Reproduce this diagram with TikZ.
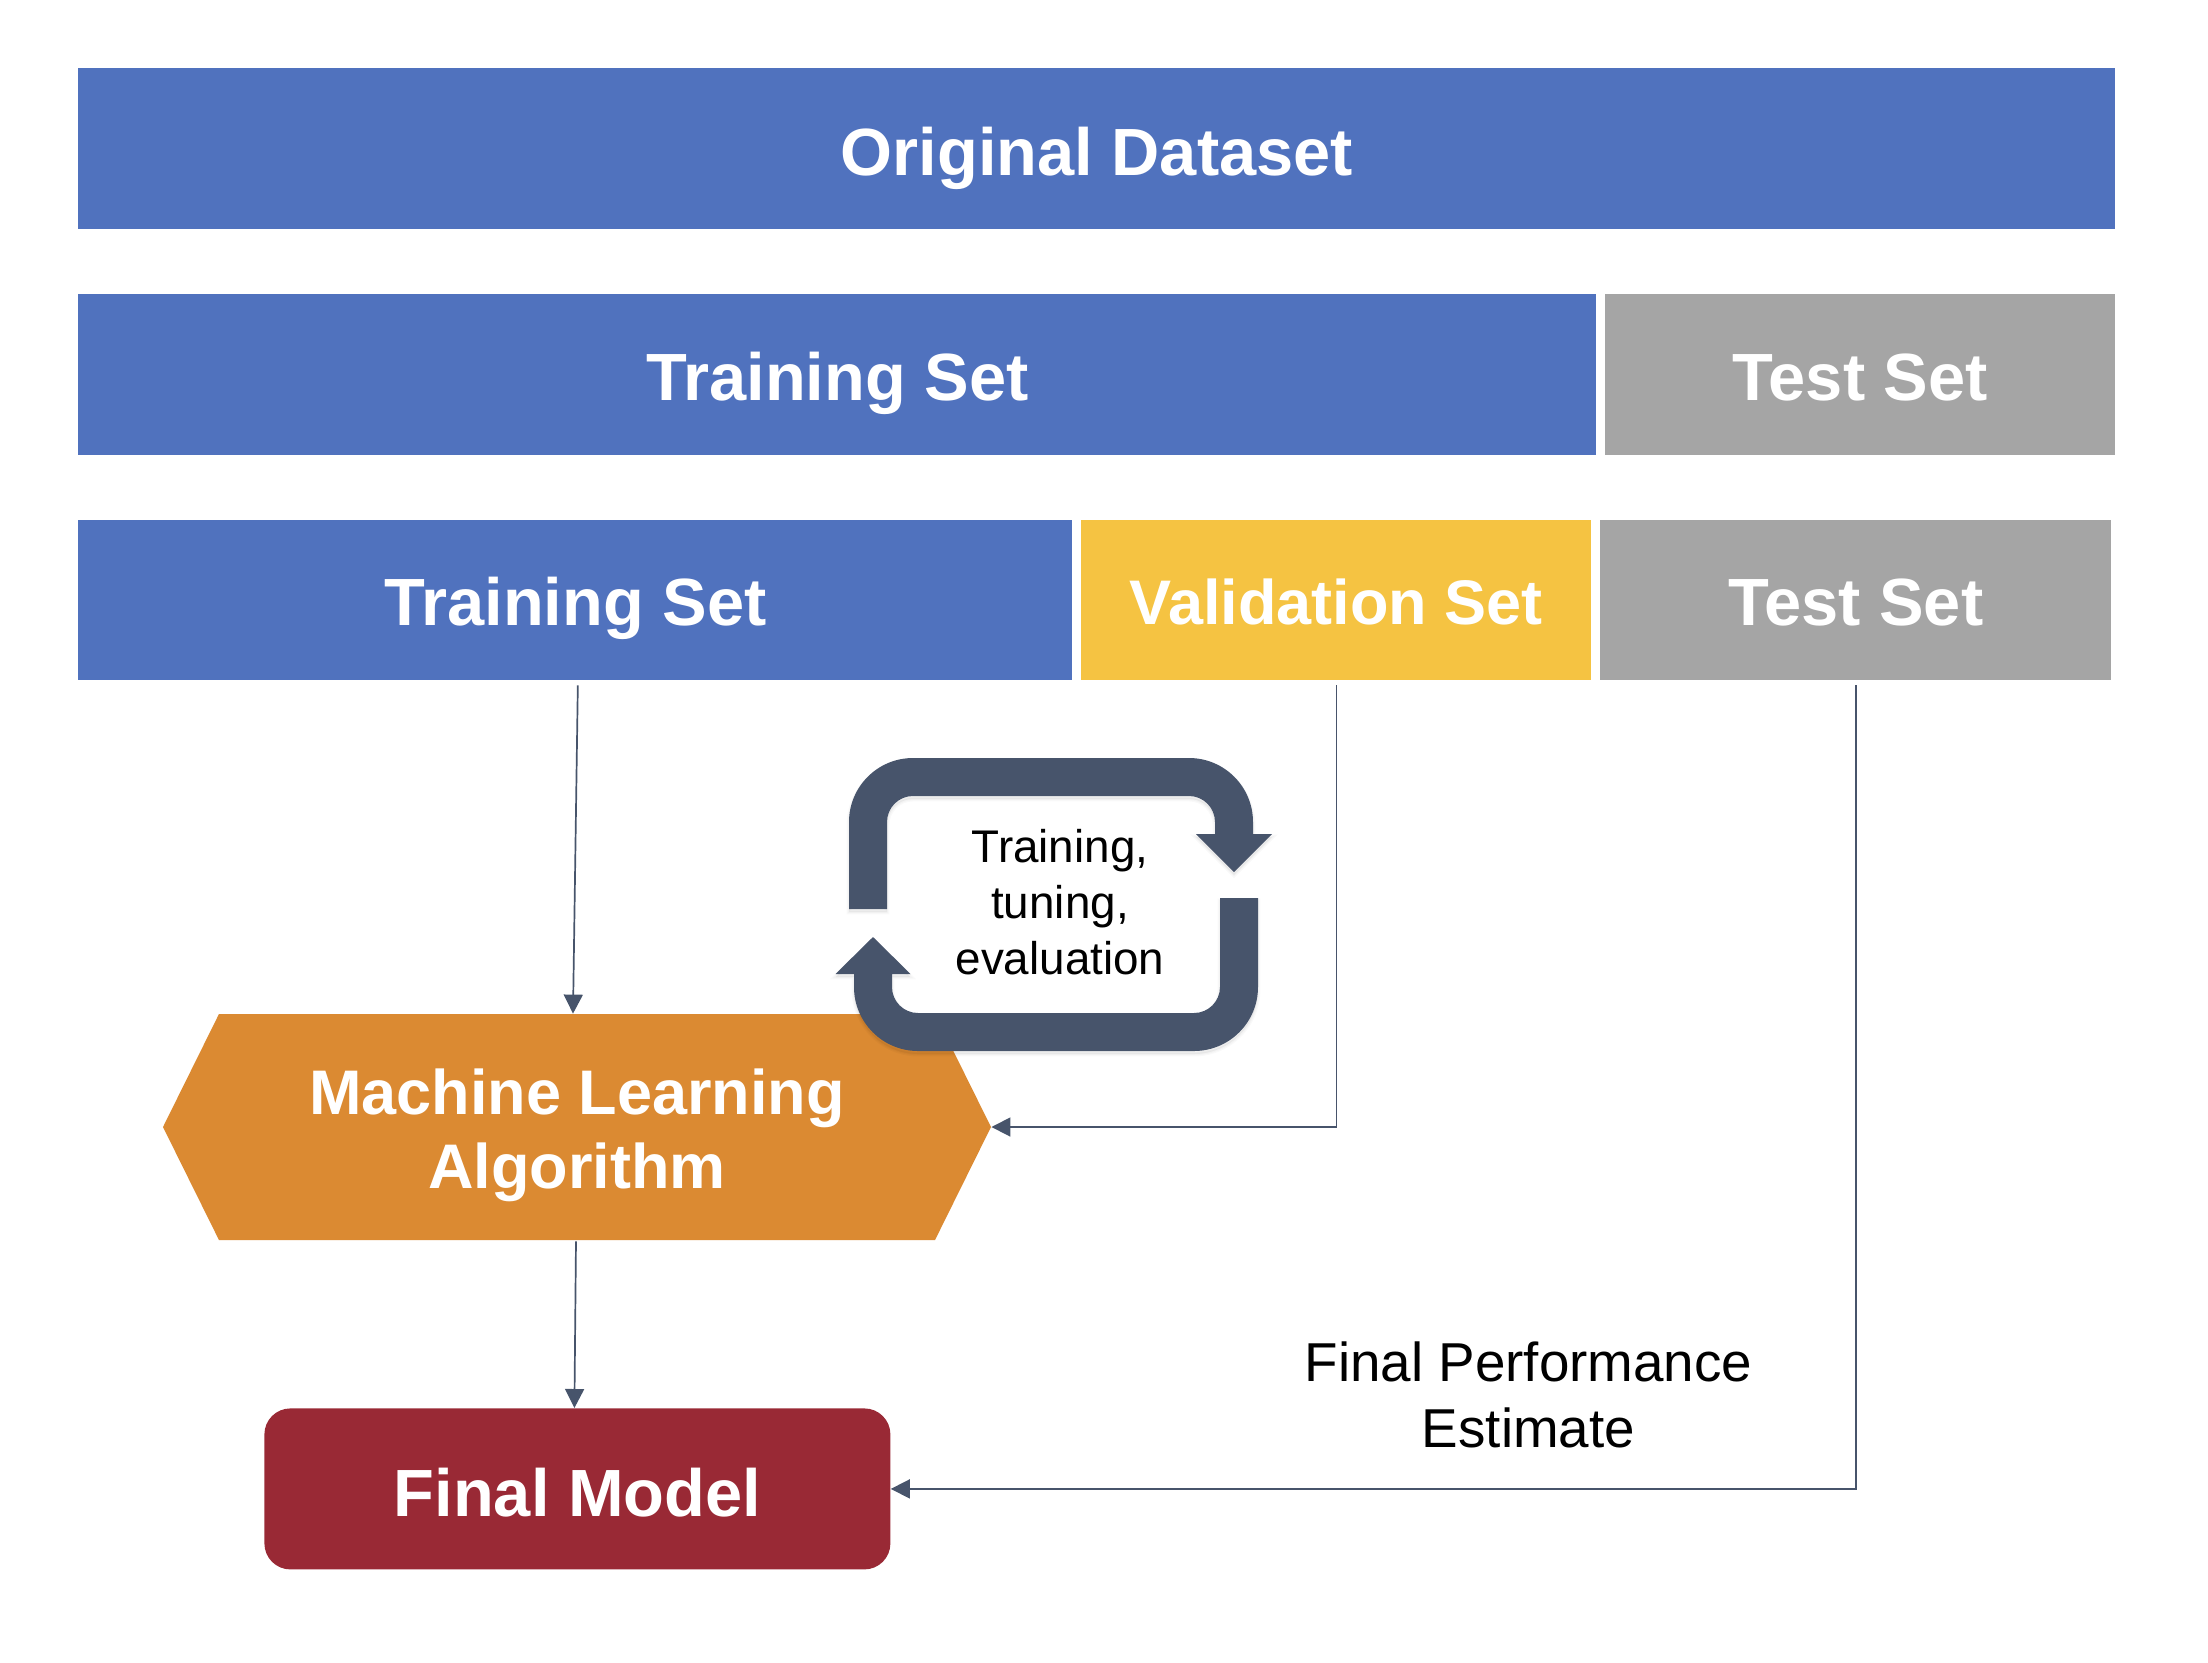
\documentclass[tikz,border=0pt]{standalone}
\usepackage{fontspec}
\setmainfont{Liberation Sans}
\usetikzlibrary{arrows.meta,shapes.symbols}
\definecolor{cblue}{HTML}{5072BE}
\definecolor{cgray}{HTML}{A5A5A5}
\definecolor{cyellow}{HTML}{F5C342}
\definecolor{corange}{HTML}{DB8A32}
\definecolor{cred}{HTML}{992935}
\definecolor{cslate}{HTML}{47546B}
\newcommand\bigfont{\fontsize{33.4pt}{37pt}\selectfont\bfseries}
\newcommand\tightfont{\fontsize{31.5pt}{37pt}\selectfont\bfseries}
\newcommand\midfont{\fontsize{27.4pt}{33pt}\selectfont}
\newcommand\smallfont{\fontsize{22.9pt}{28pt}\selectfont}
\newcommand\looptop{(849,909) [rounded corners=32pt] -- (849,758) -- (1253,758) [sharp corners] -- (1253,834) -- (1272,834) -- (1234,872) -- (1196,834) -- (1215,834) [rounded corners=13pt] -- (1215,796) -- (887,796) [sharp corners] -- (887,909) -- cycle}
\newcommand\loopbot{(1258,898) [rounded corners=32pt] -- (1258,1051) -- (854,1051) [sharp corners] -- (854,974) -- (835.5,974) -- (873,937) -- (910.5,974) -- (892,974) [rounded corners=13pt] -- (892,1013) -- (1220,1013) [sharp corners] -- (1220,898) -- cycle}
\tikzset{
  bar/.style={rectangle,anchor=north west,inner sep=0pt,text=white,font=\bigfont},
  conn/.style={draw=cslate,line width=.85pt,-{Triangle[length=9.5pt,width=9.5pt,fill=cslate]}},
  looparrow/.style={fill=cslate},
  soft/.style={draw=black,fill=black,opacity=.025,yshift=-1.5pt},
  hex/.style={signal,signal to=west and east,signal pointer angle=127.3,fill=corange,inner sep=0pt,
    minimum width=414pt,minimum height=113pt,text=white,font=\tightfont,align=center},
  plaintext/.style={inner sep=0pt,text=black,align=center}
}
\begin{document}
\begin{tikzpicture}[x=.5pt,y=-.5pt]
\useasboundingbox (0,0) rectangle (2208,1662);
% bars
\node[bar,fill=cblue,minimum width=1018.5pt,text height=53.5pt,text depth=27pt] (orig) at (78,68) {Original Dataset};
\node[bar,fill=cblue,minimum width=759pt,text height=53pt,text depth=27.5pt] (tr2) at (78,294) {Training Set};
\node[bar,fill=cgray,minimum width=255pt,text height=53pt,text depth=27.5pt] (te2) at (1605,294) {Test Set};
\node[bar,fill=cblue,minimum width=497pt,text height=52.5pt,text depth=27.5pt] (tr3) at (78,520) {Training Set};
\node[bar,fill=cyellow,minimum width=255pt,text height=52pt,text depth=28pt,font=\tightfont] (va3) at (1081,520) {Validation Set};
\node[bar,fill=cgray,minimum width=255.5pt,text height=52.5pt,text depth=27.5pt] (te3) at (1600,520) {Test Set};
% hexagon
\node[hex] (alg) at (577,1127) {\rule{0pt}{31.5pt}Machine Learning\\Algorithm};
% final model
\node[bar,fill=cred,rounded corners=13pt,minimum width=313pt,text height=54pt,text depth=26.5pt] (fm) at (264,1408) {Final Model};
% connectors
\draw[conn,shorten <=2.25pt] ([xshift=1.25pt]tr3.south) -- ([xshift=-2pt]alg.north);
\draw[conn,shorten <=2.25pt] (va3.south) |- (alg.east);
\draw[conn,shorten <=2.25pt] (te3.south) |- (fm.east);
\draw[conn,shorten <=.5pt] ([xshift=-.5pt]alg.south) -- ([xshift=-1.5pt]fm.north);
% cycle arrows
\foreach \w in {2.4,1.2}{
  \path[soft,line width=\w pt] \loopbot;
  \path[soft,line width=\w pt] \looptop;
}
\fill[looparrow] \loopbot;
\fill[looparrow] \looptop;
% labels
\node[plaintext,font=\smallfont] (cyc) at (1060,902.5) {Training,\\tuning,\\evaluation};
\node[plaintext,font=\midfont] (est) at (1528.5,1394.5) {Final Performance\\Estimate};
\end{tikzpicture}
\end{document}
